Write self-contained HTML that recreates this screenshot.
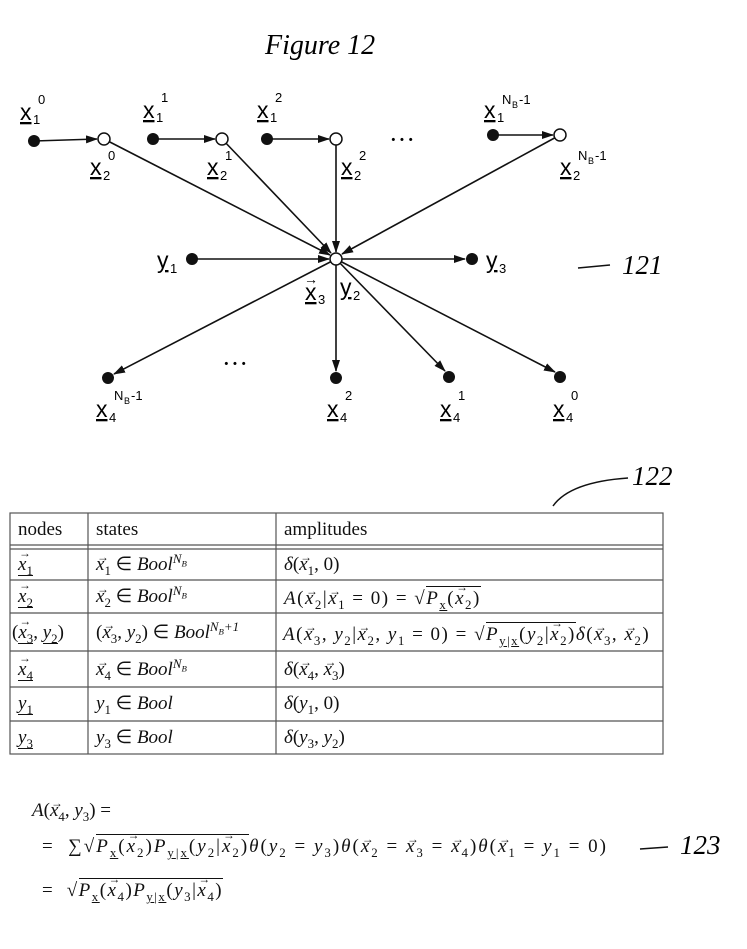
<!DOCTYPE html>
<html><head><meta charset="utf-8"><style>
body{margin:0;background:#fff;}
.w{position:relative;width:747px;height:949px;overflow:hidden;font-family:"Liberation Serif",serif;color:#111;}
.t{position:absolute;white-space:nowrap;font-size:19px;line-height:22px;}
i{font-style:italic}
sub,sup{font-size:0.68em;line-height:0}
.v{position:relative;font-style:italic;display:inline-block}
.v::after{content:"\2192";position:absolute;left:1px;top:-0.62em;font-size:0.62em;font-style:normal}
.o{display:inline-block;border-top:1px solid #111;line-height:1.15;padding-top:1px}
.u{display:inline-block;border-bottom:1px solid #111;line-height:1.05}
.sp{letter-spacing:1.5px}
</style></head><body><div class="w">
<svg width="747" height="949" style="position:absolute;left:0;top:0" font-family="Liberation Serif, serif">
<defs><marker id="a" markerWidth="12" markerHeight="8" refX="11" refY="4" orient="auto" markerUnits="userSpaceOnUse"><path d="M0,0L12,4L0,8z" fill="#111"/></marker></defs>
<text x="265" y="54" font-size="28" font-style="italic">Figure 12</text>
<g stroke="#111" stroke-width="1.6" fill="none" marker-end="url(#a)">
<line x1="34" y1="141" x2="97" y2="139"/>
<line x1="153" y1="139" x2="215" y2="139"/>
<line x1="267" y1="139" x2="329" y2="139"/>
<line x1="493" y1="135" x2="553" y2="135"/>
<line x1="104" y1="139" x2="330" y2="255"/>
<line x1="222" y1="139" x2="331" y2="253"/>
<line x1="336" y1="139" x2="336" y2="252"/>
<line x1="560" y1="135" x2="342" y2="254"/>
<line x1="192" y1="259" x2="329" y2="259"/>
<line x1="336" y1="259" x2="465" y2="259"/>
<line x1="336" y1="259" x2="114" y2="374"/>
<line x1="336" y1="259" x2="336" y2="371"/>
<line x1="336" y1="259" x2="445" y2="371"/>
<line x1="336" y1="259" x2="555" y2="372"/>
</g>
<g fill="#111">
<circle cx="34" cy="141" r="6"/><circle cx="153" cy="139" r="6"/><circle cx="267" cy="139" r="6"/><circle cx="493" cy="135" r="6"/>
<circle cx="192" cy="259" r="6"/><circle cx="472" cy="259" r="6"/>
<circle cx="108" cy="378" r="6"/><circle cx="336" cy="378" r="6"/><circle cx="449" cy="377" r="6"/><circle cx="560" cy="377" r="6"/>
</g>
<g fill="#fff" stroke="#111" stroke-width="1.5">
<circle cx="104" cy="139" r="6"/><circle cx="222" cy="139" r="6"/><circle cx="336" cy="139" r="6"/><circle cx="560" cy="135" r="6"/><circle cx="336" cy="259" r="6"/>
</g>
<g font-size="23" font-family="Liberation Sans, sans-serif" text-decoration="underline">
<text x="20" y="120">x</text><text x="90" y="175">x</text><text x="143" y="118">x</text><text x="207" y="175">x</text>
<text x="257" y="118">x</text><text x="341" y="175">x</text><text x="484" y="118">x</text><text x="560" y="175">x</text>
<text x="157" y="268">y</text><text x="486" y="268">y</text><text x="305" y="300">x</text><text x="340" y="295">y</text>
<text x="96" y="417">x</text><text x="327" y="417">x</text><text x="440" y="417">x</text><text x="553" y="417">x</text>
</g>
<g font-size="13" font-family="Liberation Sans, sans-serif">
<text x="33" y="124">1</text><text x="38" y="104">0</text>
<text x="103" y="180">2</text><text x="108" y="160">0</text>
<text x="156" y="122">1</text><text x="161" y="102">1</text>
<text x="220" y="180">2</text><text x="225" y="160">1</text>
<text x="270" y="122">1</text><text x="275" y="102">2</text>
<text x="354" y="180">2</text><text x="359" y="160">2</text>
<text x="497" y="122">1</text><text x="502" y="104">N</text><text x="512" y="108" font-size="9">B</text><text x="519" y="104">-1</text>
<text x="573" y="180">2</text><text x="578" y="160">N</text><text x="588" y="164" font-size="9">B</text><text x="595" y="160">-1</text>
<text x="170" y="273">1</text><text x="499" y="273">3</text><text x="318" y="304">3</text><text x="353" y="300">2</text>
<text x="109" y="422">4</text><text x="114" y="400">N</text><text x="124" y="404" font-size="9">B</text><text x="131" y="400">-1</text>
<text x="340" y="422">4</text><text x="345" y="400">2</text>
<text x="453" y="422">4</text><text x="458" y="400">1</text>
<text x="566" y="422">4</text><text x="571" y="400">0</text>
</g>
<text x="304" y="284" font-size="14">→</text>
<text x="389" y="148" font-size="26">···</text>
<text x="222" y="372" font-size="26">···</text>
<line x1="578" y1="268" x2="610" y2="265" stroke="#111" stroke-width="1.5"/>
<text x="622" y="274" font-size="27" font-style="italic">121</text>
<path d="M553,506 Q570,482 628,478" stroke="#111" stroke-width="1.5" fill="none"/>
<text x="632" y="485" font-size="27" font-style="italic">122</text>
<line x1="640" y1="849" x2="668" y2="847" stroke="#111" stroke-width="1.5"/>
<text x="680" y="854" font-size="27" font-style="italic">123</text>
<g stroke="#555" stroke-width="1.2" fill="none">
<rect x="10" y="513" width="653" height="241"/>
<line x1="10" y1="545" x2="663" y2="545"/><line x1="10" y1="549" x2="663" y2="549"/>
<line x1="10" y1="580" x2="663" y2="580"/><line x1="10" y1="613" x2="663" y2="613"/>
<line x1="10" y1="651" x2="663" y2="651"/><line x1="10" y1="687" x2="663" y2="687"/>
<line x1="10" y1="721" x2="663" y2="721"/>
<line x1="88" y1="513" x2="88" y2="754"/><line x1="276" y1="513" x2="276" y2="754"/>
</g>
</svg>
<div class="t" style="left:18px;top:519px">nodes</div><div class="t" style="left:96px;top:519px">states</div><div class="t" style="left:284px;top:519px">amplitudes</div>
<div class="t" style="left:18px;top:554px"><span class="u"><span class="v">x</span><sub>1</sub></span></div><div class="t" style="left:96px;top:554px"><span class="v">x</span><sub>1</sub> ∈ <i>Bool<sup>N<sub>B</sub></sup></i></div><div class="t" style="left:284px;top:554px"><i>δ</i>(<span class="v">x</span><sub>1</sub>, 0)</div>
<div class="t" style="left:18px;top:586px"><span class="u"><span class="v">x</span><sub>2</sub></span></div><div class="t" style="left:96px;top:586px"><span class="v">x</span><sub>2</sub> ∈ <i>Bool<sup>N<sub>B</sub></sup></i></div><div class="t sp" style="left:284px;top:586px"><i>A</i>(<span class="v">x</span><sub>2</sub>|<span class="v">x</span><sub>1</sub> = 0) = √<span class="o"><i>P</i><sub><u>x</u></sub>(<span class="v">x</span><sub>2</sub>)</span></div>
<div class="t" style="left:12px;top:622px">(<span class="u"><span class="v">x</span><sub>3</sub></span>, <span class="u"><i>y</i><sub>2</sub></span>)</div><div class="t" style="left:96px;top:622px">(<span class="v">x</span><sub>3</sub>, <i>y</i><sub>2</sub>) ∈ <i>Bool<sup>N<sub>B</sub>+1</sup></i></div><div class="t sp" style="left:283px;top:622px;font-size:19px"><i>A</i>(<span class="v">x</span><sub>3</sub>, <i>y</i><sub>2</sub>|<span class="v">x</span><sub>2</sub>, <i>y</i><sub>1</sub> = 0) = √<span class="o"><i>P</i><sub><u>y</u>|<u>x</u></sub>(<i>y</i><sub>2</sub>|<span class="v">x</span><sub>2</sub>)</span><i>δ</i>(<span class="v">x</span><sub>3</sub>, <span class="v">x</span><sub>2</sub>)</div>
<div class="t" style="left:18px;top:659px"><span class="u"><span class="v">x</span><sub>4</sub></span></div><div class="t" style="left:96px;top:659px"><span class="v">x</span><sub>4</sub> ∈ <i>Bool<sup>N<sub>B</sub></sup></i></div><div class="t" style="left:284px;top:659px"><i>δ</i>(<span class="v">x</span><sub>4</sub>, <span class="v">x</span><sub>3</sub>)</div>
<div class="t" style="left:18px;top:693px"><span class="u"><i>y</i><sub>1</sub></span></div><div class="t" style="left:96px;top:693px"><i>y</i><sub>1</sub> ∈ <i>Bool</i></div><div class="t" style="left:284px;top:693px"><i>δ</i>(<i>y</i><sub>1</sub>, 0)</div>
<div class="t" style="left:18px;top:727px"><span class="u"><i>y</i><sub>3</sub></span></div><div class="t" style="left:96px;top:727px"><i>y</i><sub>3</sub> ∈ <i>Bool</i></div><div class="t" style="left:284px;top:727px"><i>δ</i>(<i>y</i><sub>3</sub>, <i>y</i><sub>2</sub>)</div>
<div class="t" style="left:32px;top:800px;font-size:19px"><i>A</i>(<span class="v">x</span><sub>4</sub>, <i>y</i><sub>3</sub>) =</div>
<div class="t" style="left:42px;top:834px;font-size:19px;letter-spacing:2px">= &nbsp;∑√<span class="o"><i>P</i><sub><u>x</u></sub>(<span class="v">x</span><sub>2</sub>)<i>P</i><sub><u>y</u>|<u>x</u></sub>(<i>y</i><sub>2</sub>|<span class="v">x</span><sub>2</sub>)</span><i>θ</i>(<i>y</i><sub>2</sub> = <i>y</i><sub>3</sub>)<i>θ</i>(<span class="v">x</span><sub>2</sub> = <span class="v">x</span><sub>3</sub> = <span class="v">x</span><sub>4</sub>)<i>θ</i>(<span class="v">x</span><sub>1</sub> = <i>y</i><sub>1</sub> = 0)</div>
<div class="t sp" style="left:42px;top:878px;font-size:19px">= &nbsp;√<span class="o"><i>P</i><sub><u>x</u></sub>(<span class="v">x</span><sub>4</sub>)<i>P</i><sub><u>y</u>|<u>x</u></sub>(<i>y</i><sub>3</sub>|<span class="v">x</span><sub>4</sub>)</span></div>
</div></body></html>
